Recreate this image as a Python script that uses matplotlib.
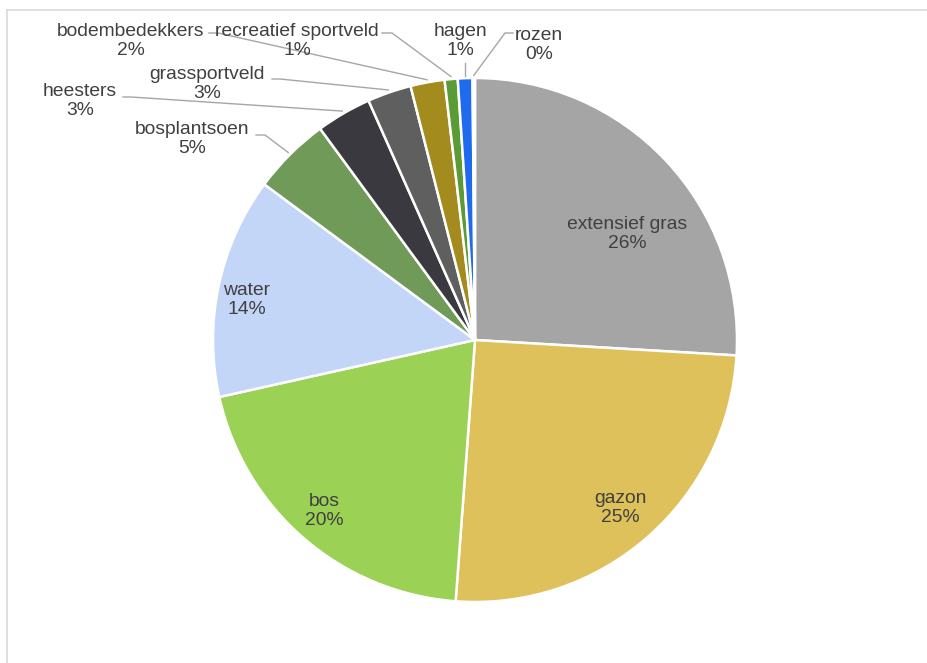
import matplotlib
matplotlib.use("Agg")
import numpy as np
import matplotlib.pyplot as plt
from matplotlib.lines import Line2D

# data
names = ["extensief gras", "gazon", "bos", "water", "bosplantsoen", "heesters",
         "grassportveld", "bodembedekkers", "recreatief sportveld", "hagen", "rozen"]
values = [25.9, 25.2, 20.3, 13.6, 4.8, 3.4, 2.7, 2.1, 0.8, 0.9, 0.15]
colors = ["#A5A5A5", "#DEC15A", "#9BD155", "#C3D6F7", "#6F9A58", "#39393F",
          "#5F5F5F", "#A48B1E", "#5A9B35", "#1F6BF0", "#E8E8E8"]

# layout in pixels (image 928x663), pie centre and radius
W, H = 928, 663
cx, cy, R = 475, 340, 262
# label centre for every slice
label_px = [(627, 234), (620, 508), (324, 511), (247, 300), (192, 139), (80, 101),
            (207, 84), (131, 41), (297, 41), (460, 41), (539, 45)]
# leader lines for the outside labels: start point and length of horizontal stub
leader_px = {4: (256, 135, 9), 5: (123, 97, 8), 6: (272, 79, 8), 7: (209, 33, 9),
             8: (382, 33, 10), 9: (463, 63, 0), 10: (513, 33, -8)}


def to_pie(px, py):
    return (px - cx) / R, (cy - py) / R


fig = plt.figure(figsize=(W / 100, H / 100), dpi=100)
ax = fig.add_axes([0, 0, 1, 1])
wedges, _ = ax.pie(values, colors=colors, startangle=90, counterclock=False,
                   radius=1, wedgeprops=dict(edgecolor="white", linewidth=1.8))
ax.set_xlim(to_pie(0, 0)[0], to_pie(W, 0)[0])
ax.set_ylim(to_pie(0, H)[1], to_pie(0, 0)[1])
ax.set_aspect("auto")
ax.axis("off")

total = sum(values)
font = dict(family=["Liberation Sans", "DejaVu Sans"], fontsize=13.9, color="#404040")
for i, (n, v) in enumerate(zip(names, values)):
    x, y = to_pie(*label_px[i])
    ax.text(x, y, "%s\n%d%%" % (n, round(v / total * 100)), ha="center", va="center",
            linespacing=1.2, **font)
    if i in leader_px:
        sx, sy, stub = leader_px[i]
        mid = np.deg2rad((wedges[i].theta1 + wedges[i].theta2) / 2)
        ex, ey = 1.01 * np.cos(mid), 1.01 * np.sin(mid)
        x0, y0 = to_pie(sx, sy)
        x1, y1 = to_pie(sx + stub, sy)
        if stub == 0:
            x0 = ex
        ax.plot([x0, x1 if stub else ex, ex], [y0, y1, ey], color="#A6A6A6", lw=1)

# chart border
fig.add_artist(Line2D([7 / W, 1], [1 - 10 / H, 1 - 10 / H], color="#D9D9D9", lw=1.2))
fig.add_artist(Line2D([7 / W, 7 / W], [0, 1 - 10 / H], color="#D9D9D9", lw=1.2))

fig.savefig("out.png", dpi=100, facecolor="white")
